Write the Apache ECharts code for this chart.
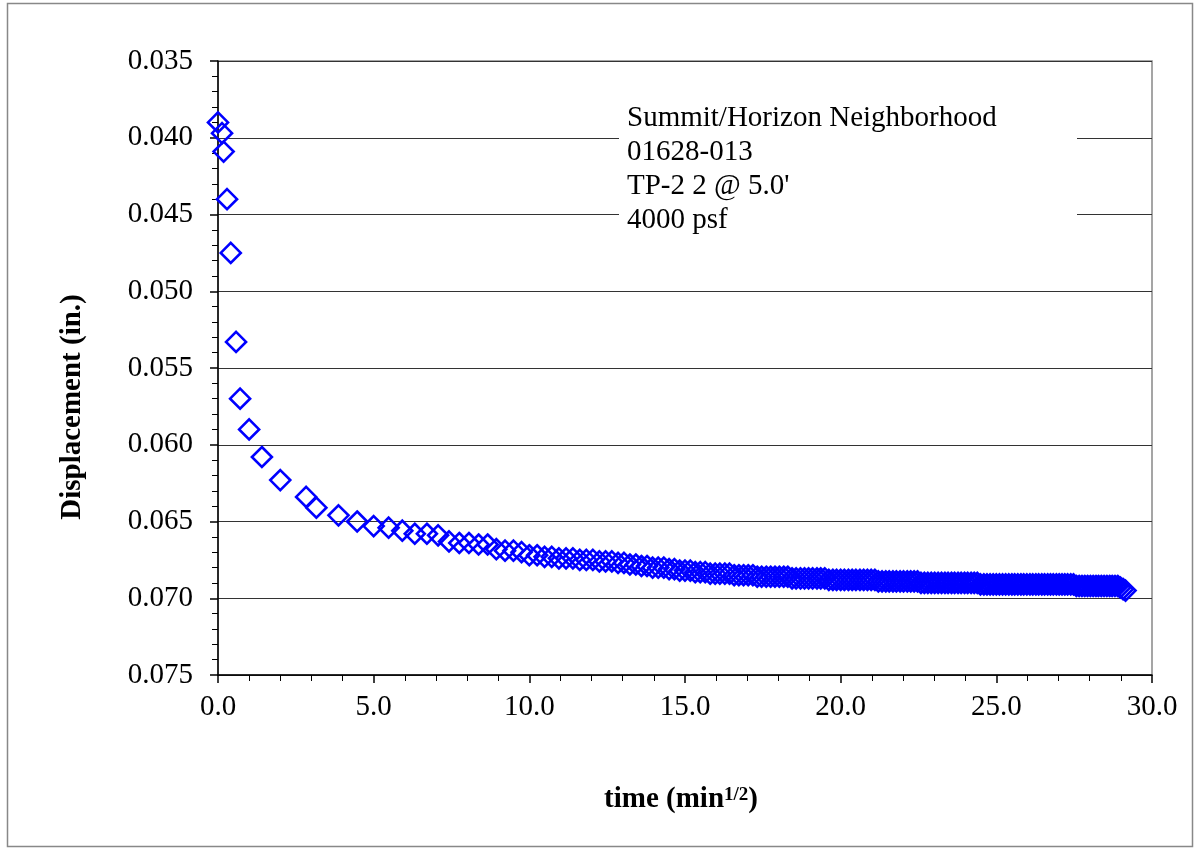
<!DOCTYPE html>
<html>
<head>
<meta charset="utf-8">
<script src="https://cdn.jsdelivr.net/npm/echarts@6/dist/echarts.min.js"></script>
<style>
html,body{margin:0;padding:0;background:#fff;}
#chart{width:1194px;height:850px;}
</style>
</head>
<body>
<div id="chart"></div>
<script>
// time (min^1/2)
const timeSqrt = [
  0.00, 0.13, 0.18, 0.29, 0.41, 0.58, 0.71, 1.00, 1.41, 2.00, 2.83, 3.16,
  3.87, 4.47, 5.00, 5.48, 5.92, 6.32, 6.71, 7.07, 7.42, 7.75,
  8.06, 8.37, 8.66, 8.94, 9.22, 9.49, 9.75, 10.00, 10.25, 10.49,
  10.72, 10.95, 11.18, 11.40, 11.62, 11.83, 12.04, 12.25, 12.45, 12.65,
  12.85, 13.04, 13.23, 13.42, 13.60, 13.78, 13.96, 14.14, 14.32, 14.49,
  14.66, 14.83, 15.00, 15.17, 15.33, 15.49, 15.65, 15.81, 15.97, 16.12,
  16.28, 16.43, 16.58, 16.73, 16.88, 17.03, 17.18, 17.32, 17.46, 17.61,
  17.75, 17.89, 18.03, 18.17, 18.30, 18.44, 18.57, 18.71, 18.84, 18.97,
  19.10, 19.24, 19.36, 19.49, 19.62, 19.75, 19.87, 20.00, 20.12, 20.25,
  20.37, 20.49, 20.62, 20.74, 20.86, 20.98, 21.10, 21.21, 21.33, 21.45,
  21.56, 21.68, 21.79, 21.91, 22.02, 22.14, 22.25, 22.36, 22.47, 22.58,
  22.69, 22.80, 22.91, 23.02, 23.13, 23.24, 23.35, 23.45, 23.56, 23.66,
  23.77, 23.87, 23.98, 24.08, 24.19, 24.29, 24.39, 24.49, 24.60, 24.70,
  24.80, 24.90, 25.00, 25.10, 25.20, 25.30, 25.40, 25.50, 25.59, 25.69,
  25.79, 25.88, 25.98, 26.08, 26.17, 26.27, 26.36, 26.46, 26.55, 26.65,
  26.74, 26.83, 26.93, 27.02, 27.11, 27.20, 27.29, 27.39, 27.48, 27.57,
  27.66, 27.75, 27.84, 27.93, 28.02, 28.11, 28.20, 28.28, 28.37, 28.46,
  28.55, 28.64, 28.72, 28.81, 28.90, 28.98, 29.07, 29.15
];
// displacement (in.)
const displacement = [
  0.0390, 0.0397, 0.0409, 0.0440, 0.0475, 0.0533, 0.0570, 0.0590, 0.0608, 0.0623, 0.0634, 0.0641,
  0.0646, 0.0650, 0.0653, 0.0654, 0.0656, 0.0658, 0.0658, 0.0659, 0.0663, 0.0664,
  0.0664, 0.0665, 0.0665, 0.0668, 0.0669, 0.0669, 0.0670, 0.0672, 0.0672, 0.0673,
  0.0673, 0.0674, 0.0674, 0.0674, 0.0675, 0.0675, 0.0675, 0.0676, 0.0676, 0.0676,
  0.0677, 0.0677, 0.0678, 0.0678, 0.0679, 0.0679, 0.0680, 0.0680, 0.0680, 0.0681,
  0.0681, 0.0682, 0.0682, 0.0682, 0.0683, 0.0683, 0.0683, 0.0684, 0.0684, 0.0684,
  0.0684, 0.0684, 0.0685, 0.0685, 0.0685, 0.0685, 0.0685, 0.0686, 0.0686, 0.0686,
  0.0686, 0.0686, 0.0686, 0.0686, 0.0686, 0.0687, 0.0687, 0.0687, 0.0687, 0.0687,
  0.0687, 0.0687, 0.0687, 0.0687, 0.0688, 0.0688, 0.0688, 0.0688, 0.0688, 0.0688,
  0.0688, 0.0688, 0.0688, 0.0688, 0.0688, 0.0688, 0.0688, 0.0689, 0.0689, 0.0689,
  0.0689, 0.0689, 0.0689, 0.0689, 0.0689, 0.0689, 0.0689, 0.0689, 0.0689, 0.0690,
  0.0690, 0.0690, 0.0690, 0.0690, 0.0690, 0.0690, 0.0690, 0.0690, 0.0690, 0.0690,
  0.0690, 0.0690, 0.0690, 0.0690, 0.0690, 0.0690, 0.0690, 0.0691, 0.0691, 0.0691,
  0.0691, 0.0691, 0.0691, 0.0691, 0.0691, 0.0691, 0.0691, 0.0691, 0.0691, 0.0691,
  0.0691, 0.0691, 0.0691, 0.0691, 0.0691, 0.0691, 0.0691, 0.0691, 0.0691, 0.0691,
  0.0691, 0.0691, 0.0691, 0.0691, 0.0691, 0.0691, 0.0691, 0.0691, 0.0691, 0.0692,
  0.0692, 0.0692, 0.0692, 0.0692, 0.0692, 0.0692, 0.0692, 0.0692, 0.0692, 0.0692,
  0.0692, 0.0692, 0.0692, 0.0692, 0.0692, 0.0693, 0.0694, 0.0695
];
const infoLines = ["Summit/Horizon Neighborhood", "01628-013", "TP-2 2 @ 5.0'", "4000 psf"];
const xTitle = "time (min";
const xTitleSup = "1/2";
const yTitle = "Displacement (in.)";

const FONT = "'Liberation Serif', 'Times New Roman', serif";
const data = timeSqrt.map((x, i) => [x, displacement[i]]);

const chart = echarts.init(document.getElementById('chart'), null, {renderer: 'canvas'});
chart.setOption({
  animation: false,
  backgroundColor: '#fff',
  grid: {left: 218, right: 42, top: 61, bottom: 175, show: true, borderColor: '#888', borderWidth: 1.5},
  xAxis: {
    type: 'value', min: 0, max: 30, interval: 5,
    axisLine: {show: true, onZero: false, lineStyle: {color: '#000', width: 1.5}},
    axisTick: {show: true, length: 8, lineStyle: {color: '#000', width: 1.5}},
    minorTick: {show: true, splitNumber: 5, length: 6, lineStyle: {color: '#000', width: 1}},
    splitLine: {show: false},
    axisLabel: {formatter: v => v.toFixed(1), fontFamily: FONT, fontSize: 29, color: '#000', margin: 18}
  },
  yAxis: {
    type: 'value', inverse: true, min: 0.035, max: 0.075, interval: 0.005,
    axisLine: {show: true, onZero: false, lineStyle: {color: '#000', width: 1.5}},
    axisTick: {show: true, length: 8, lineStyle: {color: '#000', width: 1.5}},
    minorTick: {show: true, splitNumber: 5, length: 6, lineStyle: {color: '#000', width: 1}},
    splitLine: {show: true, lineStyle: {color: '#333', width: 1}},
    axisLabel: {formatter: v => v.toFixed(3), fontFamily: FONT, fontSize: 29, color: '#000', margin: 25}
  },
  series: [{
    type: 'scatter', data: data, clip: false,
    symbol: 'diamond', symbolSize: 20,
    itemStyle: {color: 'rgba(0,0,0,0)', borderColor: '#0000ff', borderWidth: 2.6, opacity: 1}
  }],
  graphic: [
    {type: 'rect', z: 100, shape: {x: 7.5, y: 3.5, width: 1185, height: 843},
     style: {fill: 'none', stroke: '#888', lineWidth: 1.5}},
    {type: 'rect', z: 100, shape: {x: 619, y: 95, width: 458, height: 145}, style: {fill: '#fff'}},
    {type: 'text', z: 101, x: 627, y: 101,
     style: {text: infoLines.join('\n'), font: "29px " + FONT, lineHeight: 34, fill: '#000', align: 'left', verticalAlign: 'top'}},
    {type: 'text', z: 101, x: 73, y: 407, rotation: Math.PI / 2,
     style: {text: yTitle, font: "bold 29px " + FONT, fill: '#000', align: 'center', verticalAlign: 'middle'}},
    {type: 'text', z: 101, x: 681, y: 800,
     style: {
       text: '{a|' + xTitle + '}{b|' + xTitleSup + '}{a|)}',
       align: 'center', verticalAlign: 'middle',
       rich: {
         a: {fontFamily: FONT, fontWeight: 'bold', fontSize: 29, fill: '#000', color: '#000'},
         b: {fontFamily: FONT, fontWeight: 'bold', fontSize: 19, fill: '#000', color: '#000', verticalAlign: 'top'}
       }
     }}
  ]
});
</script>
</body>
</html>
